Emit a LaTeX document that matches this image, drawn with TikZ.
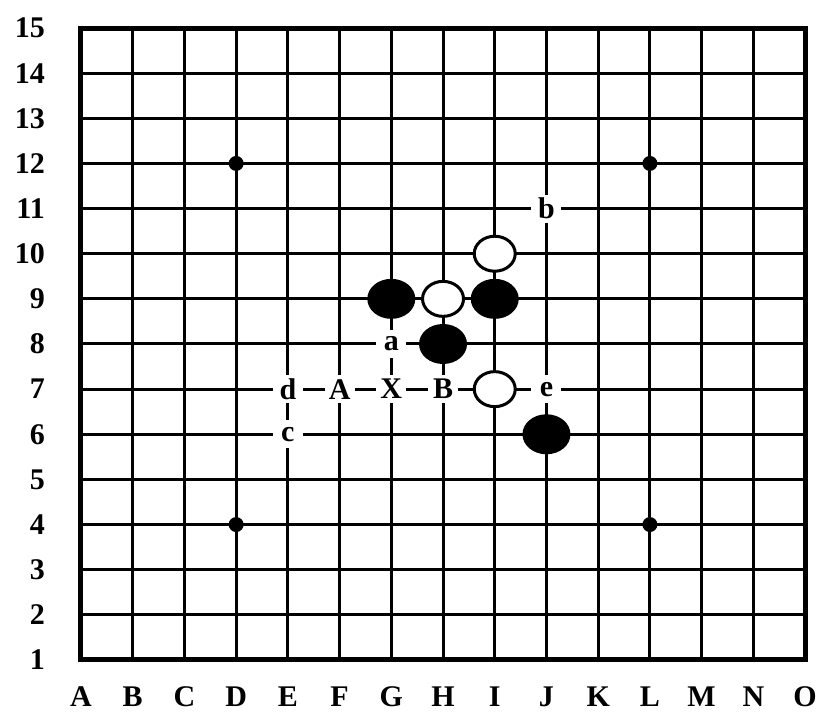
\documentclass[tikz,border=0pt]{standalone}
\usepackage{fontspec}
\setmainfont{Liberation Serif}
\usetikzlibrary{shapes.geometric}
\begin{document}
\begin{tikzpicture}[x=51.72pt,y=45.14pt,
  font=\bfseries\fontsize{30}{30}\selectfont,
  gridline/.style={line width=3pt},
  frameline/.style={line width=5pt},
  starpt/.style={circle,fill=black,inner sep=0pt,minimum size=15pt},
  blackstone/.style={ellipse,fill=black,inner sep=0pt,minimum width=48pt,minimum height=40pt},
  whitestone/.style={ellipse,draw=black,line width=3pt,fill=white,inner sep=0pt,minimum width=41pt,minimum height=35pt},
  lbl/.style={fill=white,inner sep=0pt,minimum width=30pt,minimum height=28pt},
  axislbl/.style={inner sep=0pt}]
\useasboundingbox (-1.566,-1.174) rectangle (14.231,14.621);
\foreach \i in {1,...,13} {
  \draw[gridline] (\i,0) -- (\i,14);
  \draw[gridline] (0,\i) -- (14,\i);
}
\draw[frameline] (0,0) rectangle (14,14);
% axis labels
\foreach \r in {1,...,15} \node[axislbl,anchor=east] (row\r) at (-0.696,\r-1) {\r};
\foreach \c [count=\i from 0] in {A,B,C,D,E,F,G,H,I,J,K,L,M,N,O}
  \node[axislbl,anchor=base] (col\c) at (\i,-1.02) {\c};
% star points
\node[starpt] (D12) at (3,11) {};
\node[starpt] (L12) at (11,11) {};
\node[starpt] (D4) at (3,3) {};
\node[starpt] (L4) at (11,3) {};
% stones
\node[blackstone] (G9) at (6,8) {};
\node[blackstone] (I9) at (8,8) {};
\node[blackstone] (H8) at (7,7) {};
\node[blackstone] (J6) at (9,5) {};
\node[whitestone] (H9) at (7,8) {};
\node[whitestone] (I10) at (8,9) {};
\node[whitestone] (I7) at (8,6) {};
% labels
\node[lbl] (lb) at (9,10) {b};
\node[lbl] (la) at (6,7) {a};
\node[lbl] (ld) at (4,6) {d};
\node[lbl] (lA) at (5,6) {A};
\node[lbl] (lX) at (6,6) {X};
\node[lbl] (lB) at (7,6) {B};
\node[lbl] (le) at (9,6) {e};
\node[lbl] (lc) at (4,5) {c};
\end{tikzpicture}
\end{document}
